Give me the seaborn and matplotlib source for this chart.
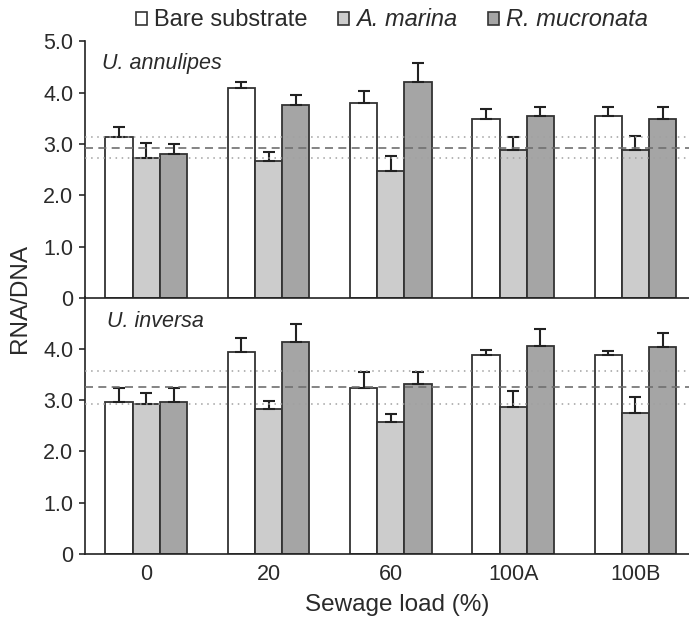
import numpy as np
import pandas as pd
import matplotlib
matplotlib.use("Agg")
import matplotlib.pyplot as plt
import seaborn as sns
from matplotlib.patches import Patch

# ---------------- data ----------------
loads = ["0", "20", "60", "100A", "100B"]
substrates = ["Bare substrate", "A. marina", "R. mucronata"]

# U. annulipes (top panel)
ann_bare = [3.13, 4.08, 3.79, 3.48, 3.54]
ann_bare_se = [0.20, 0.12, 0.24, 0.20, 0.18]
ann_am = [2.72, 2.67, 2.48, 2.89, 2.88]
ann_am_se = [0.30, 0.18, 0.28, 0.25, 0.28]
ann_rm = [2.81, 3.76, 4.20, 3.55, 3.49]
ann_rm_se = [0.19, 0.20, 0.37, 0.17, 0.23]
ann_ref = [2.72, 2.92, 3.13]   # lower dotted, dashed mean, upper dotted

# U. inversa (bottom panel)
inv_bare = [2.96, 3.93, 3.24, 3.88, 3.88]
inv_bare_se = [0.28, 0.27, 0.31, 0.09, 0.07]
inv_am = [2.93, 2.83, 2.57, 2.87, 2.75]
inv_am_se = [0.21, 0.15, 0.16, 0.31, 0.30]
inv_rm = [2.95, 4.12, 3.31, 4.05, 4.03]
inv_rm_se = [0.29, 0.35, 0.23, 0.33, 0.27]
inv_ref = [2.93, 3.25, 3.57]

species_labels = ["U. annulipes", "U. inversa"]
yticks_top = [0, 1, 2, 3, 4, 5]
yticklabels_top = ["0", "1.0", "2.0", "3.0", "4.0", "5.0"]
yticks_bot = [0, 1, 2, 3, 4]
yticklabels_bot = ["0", "1.0", "2.0", "3.0", "4.0"]

colors = ["#ffffff", "#cccccc", "#a5a5a5"]
TXT = "#2a2a2a"

def make_df(bare, am, rm, bse, ase, rse):
    rows = []
    for sub, vals, ses in zip(substrates, [bare, am, rm], [bse, ase, rse]):
        for l, v, s in zip(loads, vals, ses):
            rows.append({"load": l, "sub": sub, "val": v, "se": s})
    return pd.DataFrame(rows)

df_top = make_df(ann_bare, ann_am, ann_rm, ann_bare_se, ann_am_se, ann_rm_se)
df_bot = make_df(inv_bare, inv_am, inv_rm, inv_bare_se, inv_am_se, inv_rm_se)

sns.set_style("ticks")
plt.rcParams["font.family"] = ["Liberation Sans", "DejaVu Sans"]
plt.rcParams["text.color"] = TXT
plt.rcParams["axes.labelcolor"] = TXT
plt.rcParams["xtick.color"] = TXT
plt.rcParams["ytick.color"] = TXT

fig = plt.figure(figsize=(6.89, 6.24), dpi=100)
left, width, h = 0.1234, 0.8877, 0.4115
ax_top = fig.add_axes([left, 0.5224, width, h])
ax_bot = fig.add_axes([left, 0.1122, width, h])

def draw(ax, df, ref, label, yt, ytl, lab_xy):
    sns.barplot(data=df, x="load", y="val", hue="sub", order=loads,
                hue_order=substrates, palette=colors, edgecolor="#333333",
                linewidth=1.3, width=0.67, errorbar=None, legend=False,
                ax=ax, zorder=2)
    for cont, sub in zip(ax.containers, substrates):
        d = df[df["sub"] == sub].set_index("load").loc[loads]
        xs = [b.get_x() + b.get_width() / 2 for b in cont]
        ax.errorbar(xs, d["val"].values,
                    yerr=[np.zeros(len(xs)), d["se"].values],
                    fmt="none", ecolor="#222222", elinewidth=1.5,
                    capsize=4.5, capthick=1.5, zorder=3)
    ax.axhline(ref[0], color="#a0a0a0", lw=1.1, ls=(0, (1, 3)), zorder=4)
    ax.axhline(ref[2], color="#a0a0a0", lw=1.1, ls=(0, (1, 3)), zorder=4)
    ax.axhline(ref[1], color="#707070", lw=1.2, ls=(0, (4.8, 3.2)), zorder=4)
    ax.set_xlim(-0.5, 4.5)
    ax.set_ylim(0, 5)
    ax.set_yticks(yt)
    ax.set_yticklabels(ytl)
    ax.tick_params(axis="y", length=4.3, width=1.2, pad=4, labelsize=15.5)
    ax.tick_params(axis="x", length=0, pad=7, labelsize=15.5)
    ax.set_xlabel("")
    ax.set_ylabel("")
    for s in ["top", "right"]:
        ax.spines[s].set_visible(False)
    for s in ["left", "bottom"]:
        ax.spines[s].set_linewidth(1.2)
        ax.spines[s].set_color("#222222")
    ax.set_facecolor("none")
    ax.text(lab_xy[0], lab_xy[1], label, transform=ax.transAxes,
            fontsize=15.5, style="italic", ha="left", va="center", color=TXT)

draw(ax_top, df_top, ann_ref, species_labels[0], yticks_top, yticklabels_top, (0.028, 0.914))
draw(ax_bot, df_bot, inv_ref, species_labels[1], yticks_bot, yticklabels_bot, (0.036, 0.905))
ax_top.set_xticklabels([])

fig.text(20 / 689, 0.5224, "RNA/DNA", rotation=90, ha="center", va="center", fontsize=17.5)
fig.text(0.576, 1 - 605 / 624, "Sewage load (%)", ha="center", va="center", fontsize=17.5)

handles = [Patch(facecolor=c, edgecolor="#333333", linewidth=1.2) for c in colors]
leg = fig.legend(handles, substrates, loc="center", ncol=3,
                 bbox_to_anchor=(0.569, 0.968), frameon=False, fontsize=17,
                 handlelength=0.47, handleheight=0.47, handletextpad=0.3,
                 columnspacing=1.3, borderaxespad=0, borderpad=0)
for t in leg.get_texts()[1:]:
    t.set_style("italic")

fig.savefig("out.png", dpi=100)
